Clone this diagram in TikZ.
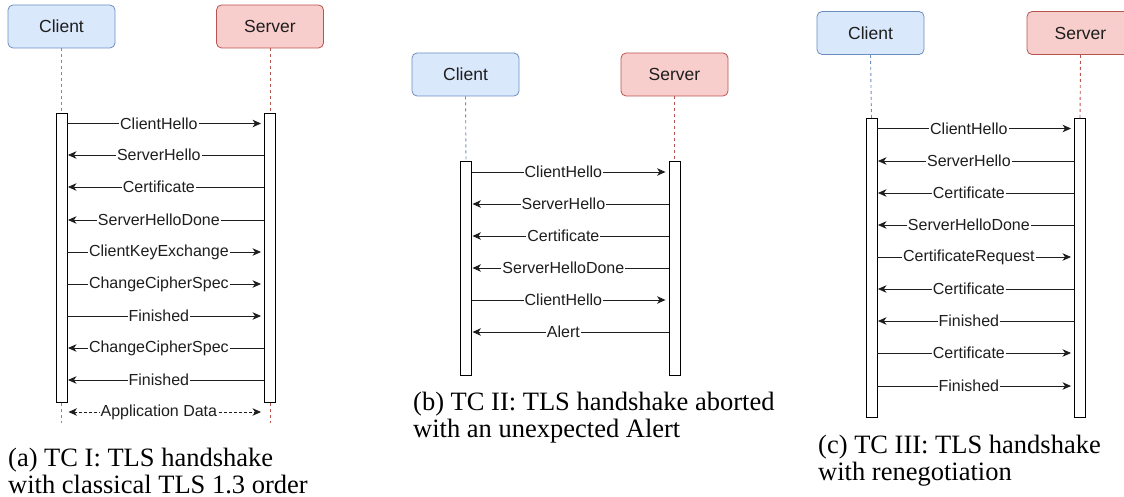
\documentclass[tikz,border=0pt]{standalone}
\usepackage{fontspec}
\setmainfont{Liberation Serif}
\setsansfont{Liberation Sans}
\usetikzlibrary{arrows.meta}
\definecolor{cfill}{HTML}{DAE8FC}
\definecolor{cline}{HTML}{6C8EBF}
\definecolor{sfill}{HTML}{F8CECC}
\definecolor{sline}{HTML}{B85450}
\definecolor{ink}{HTML}{1E1E1E}
\begin{document}
\begin{tikzpicture}[x=1pt,y=-1pt,
  head/.style={draw, rounded corners=5pt, line width=0.8pt, minimum width=107pt, minimum height=43pt, inner sep=0pt, font=\sffamily\fontsize{17.5}{20}\selectfont, text=ink},
  chead/.style={head, fill=cfill, draw=cline},
  shead/.style={head, fill=sfill, draw=sline},
  bar/.style={draw, fill=white, line width=0.9pt, minimum width=11pt, anchor=north, inner sep=0pt},
  cll/.style={draw=cline, line width=0.9pt, dash pattern=on 3pt off 3pt},
  sll/.style={draw=sline, line width=0.9pt, dash pattern=on 3pt off 3pt},
  msgline/.style={line width=0.9pt, draw=ink},
  tosrv/.style={msgline, -{Stealth[length=8.5pt,width=7.5pt,inset=2.5pt]}, shorten >=3pt},
  tocli/.style={msgline, {Stealth[length=8.5pt,width=7.5pt,inset=2.5pt]}-, shorten <=0.5pt},
  lbl/.style={fill=white, inner sep=1pt, pos=0.465, font=\sffamily\fontsize{16}{18}\selectfont, text=ink},
  captxt/.style={anchor=base west, align=left, inner sep=0pt, font=\fontsize{26.5}{27}\selectfont}
]
\useasboundingbox (0,0) rectangle (1124,497);
\clip (0,0) rectangle (1124,497);

% ---------------- (a) ----------------
\node[chead] (aC) at (61.5,26.5) {Client};
\node[shead] (aS) at (270,26.5) {Server};
\node[bar, minimum height=289pt] (aBC) at (61.5,113) {};
\node[bar, minimum height=289pt] (aBS) at (270,113) {};
\coordinate (aEC) at (61.5,423);
\coordinate (aES) at (270,423);
\draw[cll] (aC.south) -- (aBC.north);
\draw[sll] (aS.south) -- (aBS.north);
\draw[cll] (aBC.south) -- (aEC);
\draw[sll] (aBS.south) -- (aES);

\draw[tosrv] (aBC.east |- 0,123.5) -- node[lbl]{ClientHello} (aBS.west |- 0,123.5);
\draw[tocli] (aBC.east |- 0,155) -- node[lbl]{ServerHello} (aBS.west |- 0,155);
\draw[tocli] (aBC.east |- 0,187) -- node[lbl]{Certificate} (aBS.west |- 0,187);
\draw[tocli] (aBC.east |- 0,220) -- node[lbl]{ServerHelloDone} (aBS.west |- 0,220);
\draw[tosrv] (aBC.east |- 0,252) -- node[lbl]{ClientKeyExchange} (aBS.west |- 0,252);
\draw[tosrv] (aBC.east |- 0,284) -- node[lbl]{ChangeCipherSpec} (aBS.west |- 0,284);
\draw[tosrv] (aBC.east |- 0,316) -- node[lbl]{Finished} (aBS.west |- 0,316);
\draw[tocli] (aBC.east |- 0,348) -- node[lbl]{ChangeCipherSpec} (aBS.west |- 0,348);
\draw[tocli] (aBC.east |- 0,380) -- node[lbl]{Finished} (aBS.west |- 0,380);
\draw[msgline, dash pattern=on 3pt off 2pt, {Stealth[length=8.5pt,width=7.5pt,inset=2.5pt]}-{Stealth[length=8.5pt,width=7.5pt,inset=2.5pt]}, shorten <=1pt, shorten >=3pt]
  (aBC.east |- 0,412) -- node[lbl]{Application Data} (aBS.west |- 0,412);

\node[captxt] (capA) at (8,493) {(a) TC I: TLS handshake\\with classical TLS 1.3 order};

% ---------------- (b) ----------------
\node[chead] (bC) at (465.5,74.5) {Client};
\node[shead] (bS) at (674.5,74.5) {Server};
\node[bar, minimum height=214pt] (bBC) at (466,161) {};
\node[bar, minimum height=214pt] (bBS) at (674.5,161) {};
\draw[cll] (bC.south) -- (bBC.north);
\draw[sll] (bS.south) -- (bBS.north);

\draw[tosrv] (bBC.east |- 0,172) -- node[lbl]{ClientHello} (bBS.west |- 0,172);
\draw[tocli] (bBC.east |- 0,204) -- node[lbl]{ServerHello} (bBS.west |- 0,204);
\draw[tocli] (bBC.east |- 0,236) -- node[lbl]{Certificate} (bBS.west |- 0,236);
\draw[tocli] (bBC.east |- 0,268) -- node[lbl]{ServerHelloDone} (bBS.west |- 0,268);
\draw[tosrv] (bBC.east |- 0,300) -- node[lbl]{ClientHello} (bBS.west |- 0,300);
\draw[tocli] (bBC.east |- 0,332) -- node[lbl]{Alert} (bBS.west |- 0,332);

\node[captxt] (capB) at (413,437) {(b) TC II: TLS handshake aborted\\with an unexpected Alert};

% ---------------- (c) ----------------
\node[chead] (cC) at (870.5,33) {Client};
\node[shead] (cS) at (1080.5,33) {Server};
\node[bar, minimum height=299pt] (cBC) at (871.5,118) {};
\node[bar, minimum height=299pt] (cBS) at (1080,118) {};
\draw[cll] (cC.south) -- (cBC.north);
\draw[sll] (cS.south) -- (cBS.north);

\draw[tosrv] (cBC.east |- 0,128.5) -- node[lbl]{ClientHello} (cBS.west |- 0,128.5);
\draw[tocli] (cBC.east |- 0,161) -- node[lbl]{ServerHello} (cBS.west |- 0,161);
\draw[tocli] (cBC.east |- 0,193) -- node[lbl]{Certificate} (cBS.west |- 0,193);
\draw[tocli] (cBC.east |- 0,225) -- node[lbl]{ServerHelloDone} (cBS.west |- 0,225);
\draw[tosrv] (cBC.east |- 0,257) -- node[lbl]{CertificateRequest} (cBS.west |- 0,257);
\draw[tocli] (cBC.east |- 0,289) -- node[lbl]{Certificate} (cBS.west |- 0,289);
\draw[tocli] (cBC.east |- 0,321) -- node[lbl]{Finished} (cBS.west |- 0,321);
\draw[tosrv] (cBC.east |- 0,353) -- node[lbl]{Certificate} (cBS.west |- 0,353);
\draw[tosrv] (cBC.east |- 0,386) -- node[lbl]{Finished} (cBS.west |- 0,386);

\node[captxt] (capC) at (818,480) {(c) TC III: TLS handshake\\with renegotiation};
\end{tikzpicture}
\end{document}
